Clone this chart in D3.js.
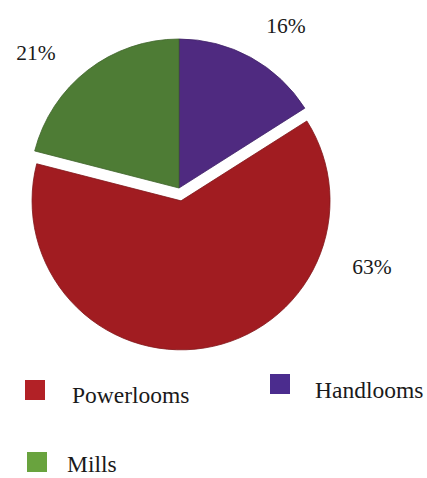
<!DOCTYPE html>
<html><head><meta charset="utf-8">
<script src="https://cdn.jsdelivr.net/npm/d3@7/dist/d3.min.js"></script>
<style>body{margin:0;background:#fff}svg{display:block}</style>
</head><body>
<script>
const categories = ["Handlooms", "Powerlooms", "Mills"];
const values = [16, 63, 21];
const labels = ["16%", "63%", "21%"];
const colors = ["#4F2A80", "#A11C21", "#4E7C35"];
const legendColors = ["#4B2C8E", "#B22126", "#69A33E"];

const W = 427, H = 478;
const svg = d3.select("body").append("svg").attr("width", W).attr("height", H);
const cx = 179, cy = 188, r = 149;
const pie = d3.pie().sort(null).value(d => d)(values);
const arc = d3.arc().innerRadius(0).outerRadius(r);
const explode = [0, 13, 0];
const g = svg.append("g").attr("transform", `translate(${cx},${cy})`);
g.selectAll("path").data(pie).join("path")
  .attr("d", arc)
  .attr("fill", (d, i) => colors[i])
  .attr("stroke", (d, i) => d3.color(colors[i]).darker(0.6))
  .attr("stroke-width", 0.8)
  .attr("transform", (d, i) => {
    const a = (d.startAngle + d.endAngle) / 2;
    return `translate(${Math.sin(a) * explode[i]},${-Math.cos(a) * explode[i]})`;
  });

const font = "Liberation Serif";
const labelPos = [[286, 33], [372, 274], [36, 60]];
svg.selectAll("text.pct").data(labels).join("text").attr("class", "pct")
  .attr("x", (d, i) => labelPos[i][0]).attr("y", (d, i) => labelPos[i][1])
  .attr("text-anchor", "middle").attr("font-family", font).attr("font-size", 21.5)
  .attr("fill", "#1a1a1a").text(d => d);

// legend
const legendPos = [[270, 374, 315, 398], [25, 380, 72, 403], [27, 452, 67, 472]];
const lg = svg.append("g");
categories.forEach((c, i) => {
  const p = legendPos[i];
  lg.append("rect").attr("x", p[0]).attr("y", p[1]).attr("width", 20).attr("height", 20)
    .attr("fill", legendColors[i]);
  lg.append("text").attr("x", p[2]).attr("y", p[3]).attr("font-family", font)
    .attr("font-size", 23.5).attr("fill", "#1a1a1a").text(c);
});
</script>
</body></html>
